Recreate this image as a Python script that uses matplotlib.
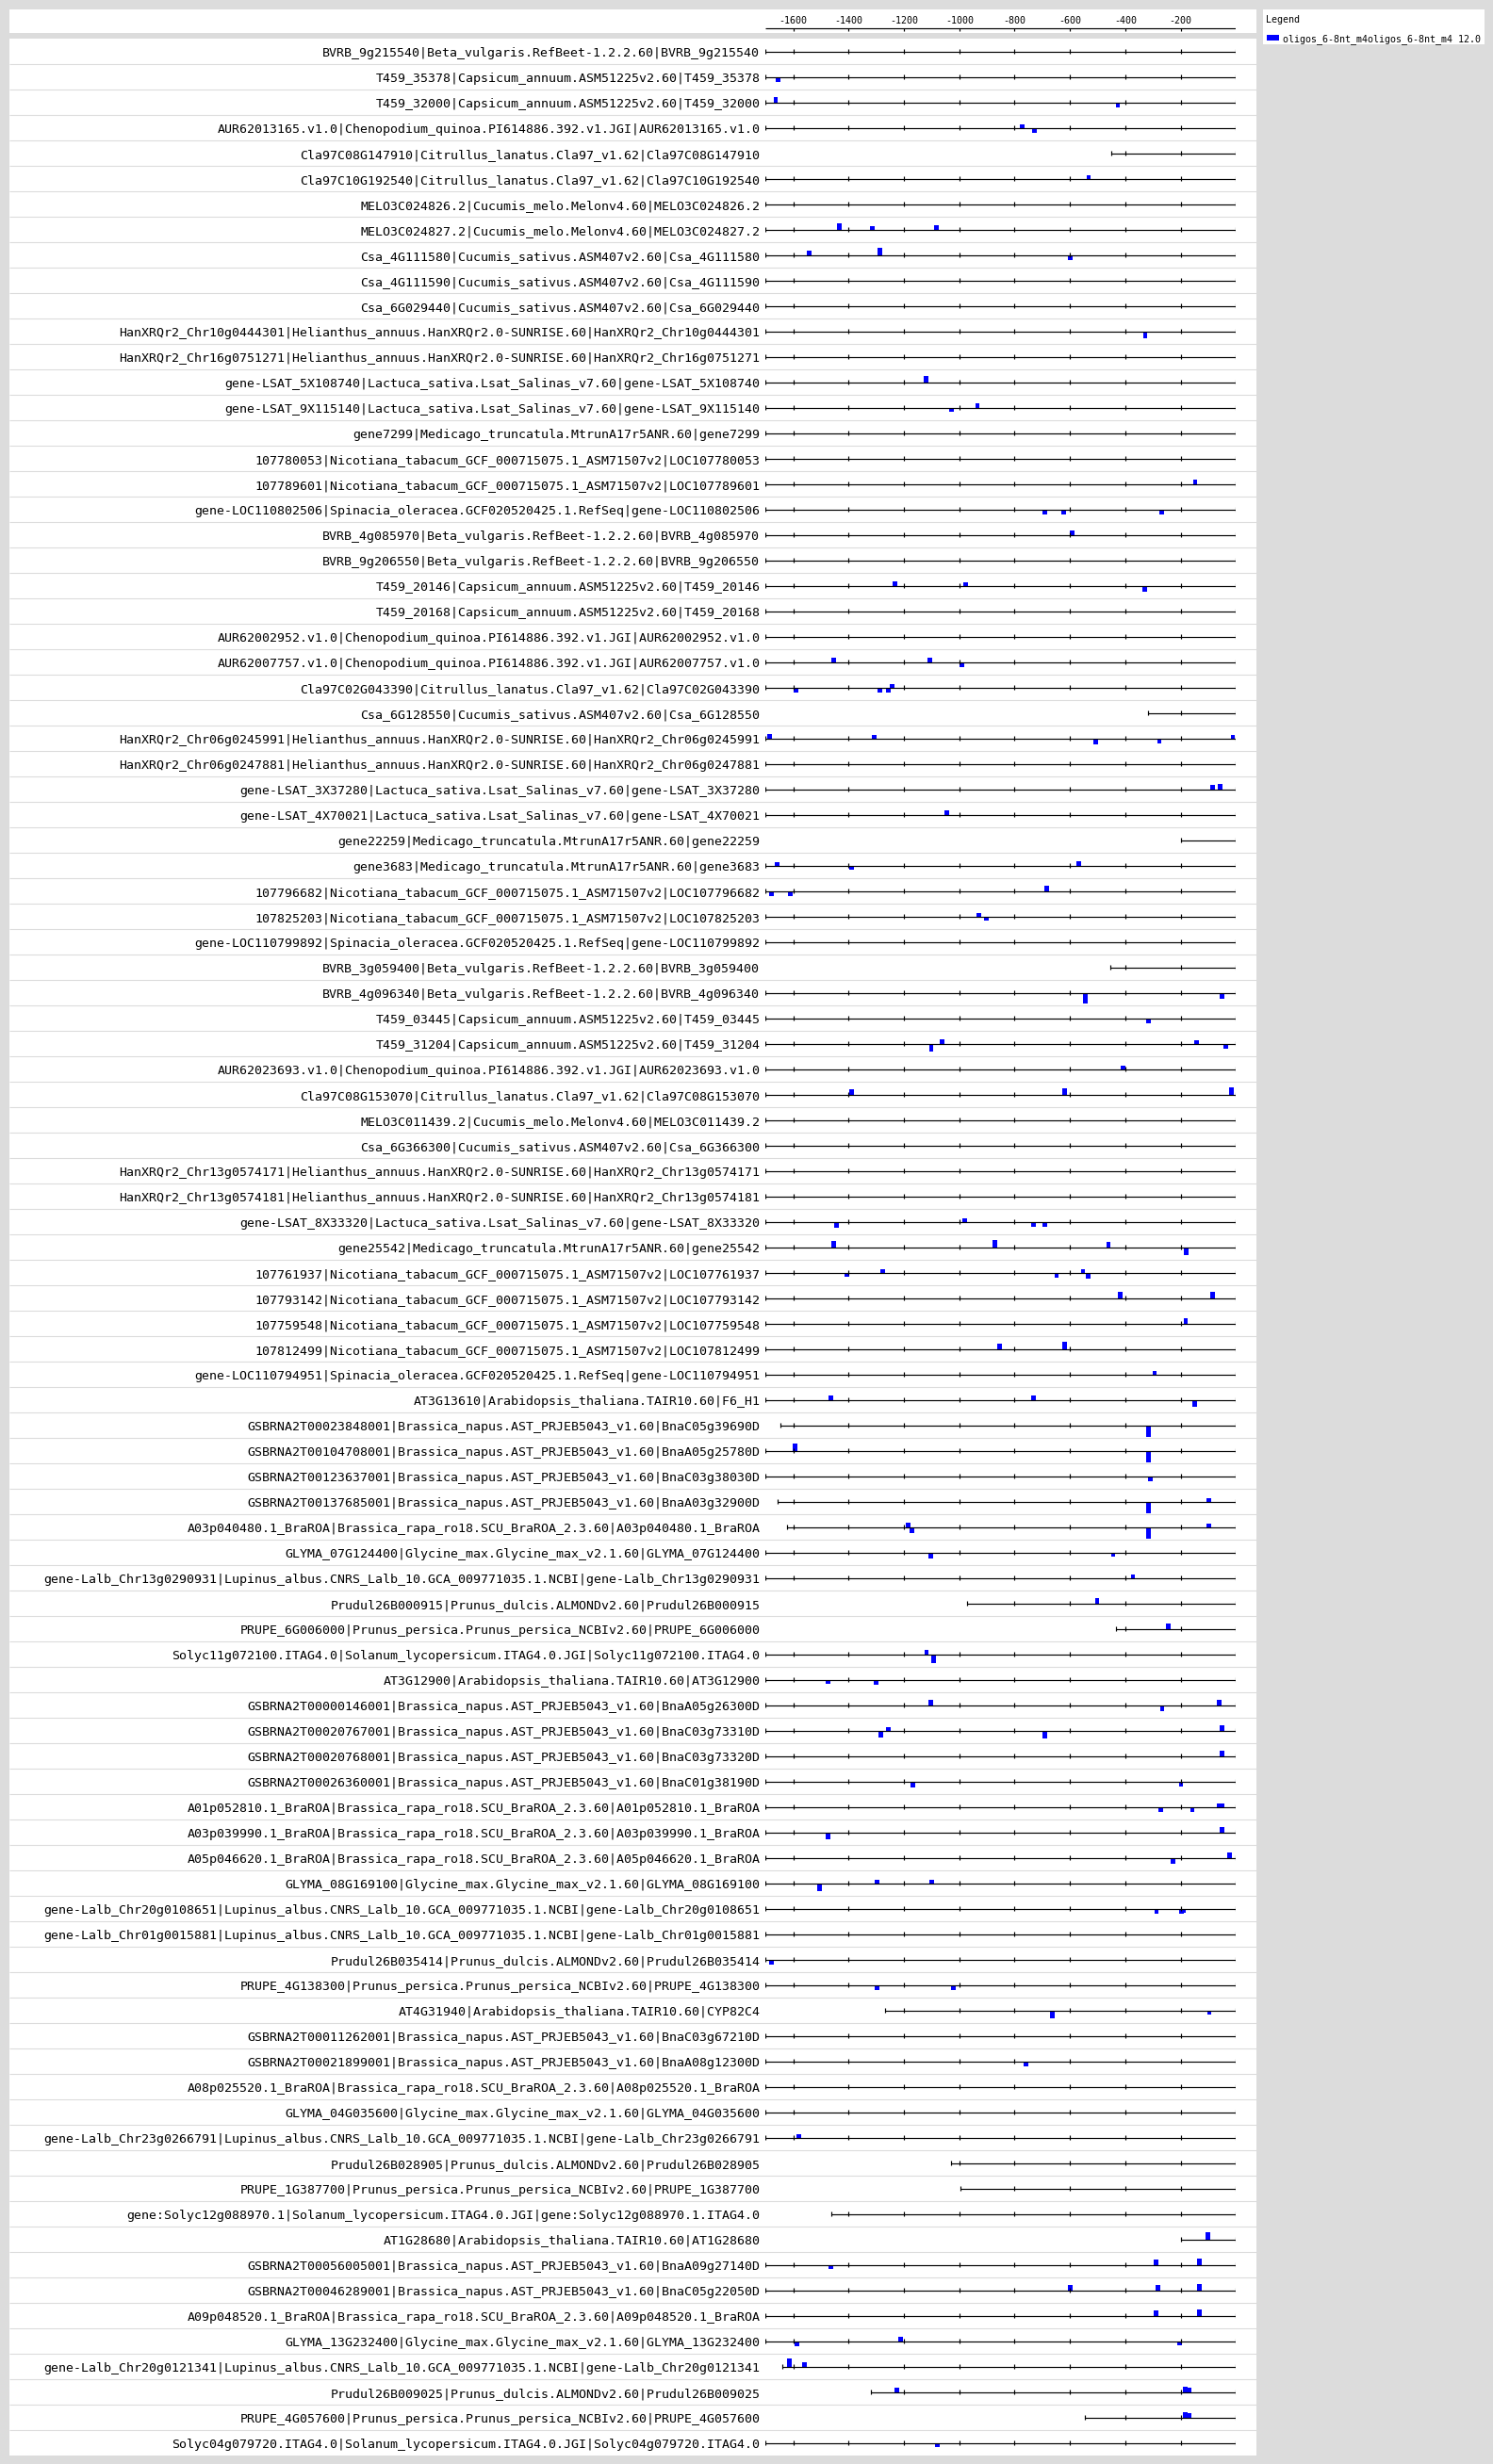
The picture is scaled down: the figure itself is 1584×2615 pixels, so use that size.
import matplotlib
matplotlib.use("Agg")
import matplotlib.pyplot as plt
from matplotlib.patches import Rectangle
from matplotlib.transforms import offset_copy

W, H, DPI = 1584, 2615, 100

labels = [
    "BVRB_9g215540|Beta_vulgaris.RefBeet-1.2.2.60|BVRB_9g215540",
    "T459_35378|Capsicum_annuum.ASM51225v2.60|T459_35378",
    "T459_32000|Capsicum_annuum.ASM51225v2.60|T459_32000",
    "AUR62013165.v1.0|Chenopodium_quinoa.PI614886.392.v1.JGI|AUR62013165.v1.0",
    "Cla97C08G147910|Citrullus_lanatus.Cla97_v1.62|Cla97C08G147910",
    "Cla97C10G192540|Citrullus_lanatus.Cla97_v1.62|Cla97C10G192540",
    "MELO3C024826.2|Cucumis_melo.Melonv4.60|MELO3C024826.2",
    "MELO3C024827.2|Cucumis_melo.Melonv4.60|MELO3C024827.2",
    "Csa_4G111580|Cucumis_sativus.ASM407v2.60|Csa_4G111580",
    "Csa_4G111590|Cucumis_sativus.ASM407v2.60|Csa_4G111590",
    "Csa_6G029440|Cucumis_sativus.ASM407v2.60|Csa_6G029440",
    "HanXRQr2_Chr10g0444301|Helianthus_annuus.HanXRQr2.0-SUNRISE.60|HanXRQr2_Chr10g0444301",
    "HanXRQr2_Chr16g0751271|Helianthus_annuus.HanXRQr2.0-SUNRISE.60|HanXRQr2_Chr16g0751271",
    "gene-LSAT_5X108740|Lactuca_sativa.Lsat_Salinas_v7.60|gene-LSAT_5X108740",
    "gene-LSAT_9X115140|Lactuca_sativa.Lsat_Salinas_v7.60|gene-LSAT_9X115140",
    "gene7299|Medicago_truncatula.MtrunA17r5ANR.60|gene7299",
    "107780053|Nicotiana_tabacum_GCF_000715075.1_ASM71507v2|LOC107780053",
    "107789601|Nicotiana_tabacum_GCF_000715075.1_ASM71507v2|LOC107789601",
    "gene-LOC110802506|Spinacia_oleracea.GCF020520425.1.RefSeq|gene-LOC110802506",
    "BVRB_4g085970|Beta_vulgaris.RefBeet-1.2.2.60|BVRB_4g085970",
    "BVRB_9g206550|Beta_vulgaris.RefBeet-1.2.2.60|BVRB_9g206550",
    "T459_20146|Capsicum_annuum.ASM51225v2.60|T459_20146",
    "T459_20168|Capsicum_annuum.ASM51225v2.60|T459_20168",
    "AUR62002952.v1.0|Chenopodium_quinoa.PI614886.392.v1.JGI|AUR62002952.v1.0",
    "AUR62007757.v1.0|Chenopodium_quinoa.PI614886.392.v1.JGI|AUR62007757.v1.0",
    "Cla97C02G043390|Citrullus_lanatus.Cla97_v1.62|Cla97C02G043390",
    "Csa_6G128550|Cucumis_sativus.ASM407v2.60|Csa_6G128550",
    "HanXRQr2_Chr06g0245991|Helianthus_annuus.HanXRQr2.0-SUNRISE.60|HanXRQr2_Chr06g0245991",
    "HanXRQr2_Chr06g0247881|Helianthus_annuus.HanXRQr2.0-SUNRISE.60|HanXRQr2_Chr06g0247881",
    "gene-LSAT_3X37280|Lactuca_sativa.Lsat_Salinas_v7.60|gene-LSAT_3X37280",
    "gene-LSAT_4X70021|Lactuca_sativa.Lsat_Salinas_v7.60|gene-LSAT_4X70021",
    "gene22259|Medicago_truncatula.MtrunA17r5ANR.60|gene22259",
    "gene3683|Medicago_truncatula.MtrunA17r5ANR.60|gene3683",
    "107796682|Nicotiana_tabacum_GCF_000715075.1_ASM71507v2|LOC107796682",
    "107825203|Nicotiana_tabacum_GCF_000715075.1_ASM71507v2|LOC107825203",
    "gene-LOC110799892|Spinacia_oleracea.GCF020520425.1.RefSeq|gene-LOC110799892",
    "BVRB_3g059400|Beta_vulgaris.RefBeet-1.2.2.60|BVRB_3g059400",
    "BVRB_4g096340|Beta_vulgaris.RefBeet-1.2.2.60|BVRB_4g096340",
    "T459_03445|Capsicum_annuum.ASM51225v2.60|T459_03445",
    "T459_31204|Capsicum_annuum.ASM51225v2.60|T459_31204",
    "AUR62023693.v1.0|Chenopodium_quinoa.PI614886.392.v1.JGI|AUR62023693.v1.0",
    "Cla97C08G153070|Citrullus_lanatus.Cla97_v1.62|Cla97C08G153070",
    "MELO3C011439.2|Cucumis_melo.Melonv4.60|MELO3C011439.2",
    "Csa_6G366300|Cucumis_sativus.ASM407v2.60|Csa_6G366300",
    "HanXRQr2_Chr13g0574171|Helianthus_annuus.HanXRQr2.0-SUNRISE.60|HanXRQr2_Chr13g0574171",
    "HanXRQr2_Chr13g0574181|Helianthus_annuus.HanXRQr2.0-SUNRISE.60|HanXRQr2_Chr13g0574181",
    "gene-LSAT_8X33320|Lactuca_sativa.Lsat_Salinas_v7.60|gene-LSAT_8X33320",
    "gene25542|Medicago_truncatula.MtrunA17r5ANR.60|gene25542",
    "107761937|Nicotiana_tabacum_GCF_000715075.1_ASM71507v2|LOC107761937",
    "107793142|Nicotiana_tabacum_GCF_000715075.1_ASM71507v2|LOC107793142",
    "107759548|Nicotiana_tabacum_GCF_000715075.1_ASM71507v2|LOC107759548",
    "107812499|Nicotiana_tabacum_GCF_000715075.1_ASM71507v2|LOC107812499",
    "gene-LOC110794951|Spinacia_oleracea.GCF020520425.1.RefSeq|gene-LOC110794951",
    "AT3G13610|Arabidopsis_thaliana.TAIR10.60|F6_H1",
    "GSBRNA2T00023848001|Brassica_napus.AST_PRJEB5043_v1.60|BnaC05g39690D",
    "GSBRNA2T00104708001|Brassica_napus.AST_PRJEB5043_v1.60|BnaA05g25780D",
    "GSBRNA2T00123637001|Brassica_napus.AST_PRJEB5043_v1.60|BnaC03g38030D",
    "GSBRNA2T00137685001|Brassica_napus.AST_PRJEB5043_v1.60|BnaA03g32900D",
    "A03p040480.1_BraROA|Brassica_rapa_ro18.SCU_BraROA_2.3.60|A03p040480.1_BraROA",
    "GLYMA_07G124400|Glycine_max.Glycine_max_v2.1.60|GLYMA_07G124400",
    "gene-Lalb_Chr13g0290931|Lupinus_albus.CNRS_Lalb_10.GCA_009771035.1.NCBI|gene-Lalb_Chr13g0290931",
    "Prudul26B000915|Prunus_dulcis.ALMONDv2.60|Prudul26B000915",
    "PRUPE_6G006000|Prunus_persica.Prunus_persica_NCBIv2.60|PRUPE_6G006000",
    "Solyc11g072100.ITAG4.0|Solanum_lycopersicum.ITAG4.0.JGI|Solyc11g072100.ITAG4.0",
    "AT3G12900|Arabidopsis_thaliana.TAIR10.60|AT3G12900",
    "GSBRNA2T00000146001|Brassica_napus.AST_PRJEB5043_v1.60|BnaA05g26300D",
    "GSBRNA2T00020767001|Brassica_napus.AST_PRJEB5043_v1.60|BnaC03g73310D",
    "GSBRNA2T00020768001|Brassica_napus.AST_PRJEB5043_v1.60|BnaC03g73320D",
    "GSBRNA2T00026360001|Brassica_napus.AST_PRJEB5043_v1.60|BnaC01g38190D",
    "A01p052810.1_BraROA|Brassica_rapa_ro18.SCU_BraROA_2.3.60|A01p052810.1_BraROA",
    "A03p039990.1_BraROA|Brassica_rapa_ro18.SCU_BraROA_2.3.60|A03p039990.1_BraROA",
    "A05p046620.1_BraROA|Brassica_rapa_ro18.SCU_BraROA_2.3.60|A05p046620.1_BraROA",
    "GLYMA_08G169100|Glycine_max.Glycine_max_v2.1.60|GLYMA_08G169100",
    "gene-Lalb_Chr20g0108651|Lupinus_albus.CNRS_Lalb_10.GCA_009771035.1.NCBI|gene-Lalb_Chr20g0108651",
    "gene-Lalb_Chr01g0015881|Lupinus_albus.CNRS_Lalb_10.GCA_009771035.1.NCBI|gene-Lalb_Chr01g0015881",
    "Prudul26B035414|Prunus_dulcis.ALMONDv2.60|Prudul26B035414",
    "PRUPE_4G138300|Prunus_persica.Prunus_persica_NCBIv2.60|PRUPE_4G138300",
    "AT4G31940|Arabidopsis_thaliana.TAIR10.60|CYP82C4",
    "GSBRNA2T00011262001|Brassica_napus.AST_PRJEB5043_v1.60|BnaC03g67210D",
    "GSBRNA2T00021899001|Brassica_napus.AST_PRJEB5043_v1.60|BnaA08g12300D",
    "A08p025520.1_BraROA|Brassica_rapa_ro18.SCU_BraROA_2.3.60|A08p025520.1_BraROA",
    "GLYMA_04G035600|Glycine_max.Glycine_max_v2.1.60|GLYMA_04G035600",
    "gene-Lalb_Chr23g0266791|Lupinus_albus.CNRS_Lalb_10.GCA_009771035.1.NCBI|gene-Lalb_Chr23g0266791",
    "Prudul26B028905|Prunus_dulcis.ALMONDv2.60|Prudul26B028905",
    "PRUPE_1G387700|Prunus_persica.Prunus_persica_NCBIv2.60|PRUPE_1G387700",
    "gene:Solyc12g088970.1|Solanum_lycopersicum.ITAG4.0.JGI|gene:Solyc12g088970.1.ITAG4.0",
    "AT1G28680|Arabidopsis_thaliana.TAIR10.60|AT1G28680",
    "GSBRNA2T00056005001|Brassica_napus.AST_PRJEB5043_v1.60|BnaA09g27140D",
    "GSBRNA2T00046289001|Brassica_napus.AST_PRJEB5043_v1.60|BnaC05g22050D",
    "A09p048520.1_BraROA|Brassica_rapa_ro18.SCU_BraROA_2.3.60|A09p048520.1_BraROA",
    "GLYMA_13G232400|Glycine_max.Glycine_max_v2.1.60|GLYMA_13G232400",
    "gene-Lalb_Chr20g0121341|Lupinus_albus.CNRS_Lalb_10.GCA_009771035.1.NCBI|gene-Lalb_Chr20g0121341",
    "Prudul26B009025|Prunus_dulcis.ALMONDv2.60|Prudul26B009025",
    "PRUPE_4G057600|Prunus_persica.Prunus_persica_NCBIv2.60|PRUPE_4G057600",
    "Solyc04g079720.ITAG4.0|Solanum_lycopersicum.ITAG4.0.JGI|Solyc04g079720.ITAG4.0",
]

# sequences shorter than the full upstream window: row index -> start position
short_rows = [4, 26, 31, 36, 54, 57, 58, 61, 62, 77, 83, 84, 85, 86, 91, 92, 93]
short_starts = [-450, -317, -200, -453, -1648, -1658, -1624, -972, -432,
                -1270, -1031, -997, -1464, -200, -1641, -1321, -545]

# motif hits: row, centre position, strand (+1 above / -1 below), score (bar height)
motif_row = [1, 2, 2, 3, 3, 5, 7, 7, 7, 8, 8, 8, 11, 13, 14, 14,
             17, 18, 18, 18, 19, 21, 21, 21, 24, 24, 24, 25, 25, 25, 25,
             27, 27, 27, 27, 27, 29, 29, 30, 32, 32, 32, 33, 33, 33, 34, 34,
             37, 37, 38, 39, 39, 39, 39, 40, 41, 41, 41, 46, 46, 46, 46,
             47, 47, 47, 47, 48, 48, 48, 48, 48, 49, 49, 50, 51, 51, 52,
             53, 53, 53, 54, 55, 55, 56, 57, 57, 58, 58, 58, 58, 59, 59,
             60, 61, 62, 63, 63, 64, 64, 65, 65, 65, 66, 66, 66, 66, 67,
             68, 68, 69, 69, 69, 69, 70, 70, 71, 71, 72, 72, 72, 73, 73, 73,
             75, 76, 76, 77, 77, 79, 82, 86, 87, 87, 87, 88, 88, 88, 89, 89,
             90, 90, 90, 91, 91, 92, 92, 92, 93, 93, 94]
motif_pos = [-1656, -1664, -427, -773, -728, -532, -1433, -1314, -1083, -1542, -1287, -600, -328, -1120, -1028, -934,
             -148, -692, -623, -269, -592, -1232, -977, -330, -1455, -1106, -991, -1590, -1287, -1256, -1243,
             -1685, -1307, -508, -277, -11, -85, -58, -1045, -1658, -1389, -568, -1679, -1610, -684, -930, -902,
             -545, -51, -317, -1101, -1063, -143, -37, -408, -1389, -620, -17, -1443, -980, -732, -691,
             -1455, -871, -461, -180, -1406, -1277, -648, -553, -534, -419, -85, -182, -854, -620, -294,
             -1465, -732, -150, -317, -1593, -317, -310, -317, -99, -1186, -1171, -317, -99, -1103, -444,
             -372, -502, -245, -1118, -1093, -1474, -1300, -1104, -267, -61, -1283, -1256, -691, -51, -51,
             -1168, -199, -272, -158, -61, -50, -1474, -51, -228, -24, -1505, -1297, -1100, -287, -197, -189,
             -1678, -1297, -1021, -664, -96, -760, -1580, -102, -1464, -289, -133, -599, -283, -133, -289, -133,
             -1586, -1212, -204, -1615, -1559, -1225, -184, -170, -184, -170, -1079]
motif_strand = [-1, 1, -1, 1, -1, 1, 1, 1, 1, 1, 1, -1, -1, 1, -1, 1,
                1, -1, -1, -1, 1, 1, 1, -1, 1, 1, -1, -1, -1, -1, 1,
                1, 1, -1, -1, 1, 1, 1, 1, 1, -1, 1, -1, -1, 1, 1, -1,
                -1, -1, -1, -1, 1, 1, -1, 1, 1, 1, 1, -1, 1, -1, -1,
                1, 1, 1, -1, -1, 1, -1, 1, -1, 1, 1, 1, 1, 1, 1,
                1, 1, -1, -1, 1, -1, -1, -1, 1, 1, -1, -1, 1, -1, -1,
                1, 1, 1, 1, -1, -1, -1, 1, -1, 1, -1, 1, -1, 1, 1,
                -1, -1, -1, -1, 1, 1, -1, 1, -1, 1, -1, 1, 1, -1, -1, -1,
                -1, -1, -1, -1, -1, -1, 1, 1, -1, 1, 1, 1, 1, 1, 1, 1,
                -1, 1, -1, 1, 1, 1, 1, 1, 1, 1, -1]
motif_score = [5, 6, 5, 4, 5, 4, 7, 4, 5, 5, 8, 5, 7, 7, 4, 5,
               5, 5, 5, 5, 5, 5, 4, 6, 5, 5, 5, 5, 5, 5, 4,
               5, 4, 6, 5, 4, 5, 6, 5, 4, 4, 5, 5, 5, 6, 4, 4,
               11, 6, 5, 8, 5, 4, 5, 4, 6, 7, 8, 6, 4, 5, 5,
               7, 8, 6, 8, 4, 4, 5, 4, 6, 7, 7, 6, 6, 8, 4,
               5, 5, 7, 12, 8, 12, 5, 12, 4, 5, 6, 12, 4, 6, 4,
               4, 6, 6, 5, 9, 4, 5, 6, 6, 6, 7, 4, 8, 6, 6,
               6, 5, 5, 5, 4, 4, 7, 6, 6, 6, 8, 4, 4, 5, 5, 4,
               5, 5, 5, 8, 4, 5, 4, 8, 4, 6, 7, 6, 6, 7, 6, 7,
               5, 5, 4, 9, 5, 5, 6, 5, 6, 5, 4]

axis_ticks = [-1600, -1400, -1200, -1000, -800, -600, -400, -200]
legend_title = "Legend"
legend_label = "oligos_6-8nt_m4oligos_6-8nt_m4 12.0"

XMIN, XMAX = -1700, 0
GRAY = "#dcdcdc"
BLUE = "#0000ff"
MONO = "DejaVu Sans Mono"

fig = plt.figure(figsize=(W / DPI, H / DPI), dpi=DPI, facecolor=GRAY)


def fig_rect(x0, y0, x1, y1):
    return [x0 / W, 1 - y1 / H, (x1 - x0) / W, (y1 - y0) / H]


def fx(x):
    return x / W


def fy(y):
    return 1 - y / H


def clean(a):
    a.set_xticks([])
    a.set_yticks([])
    for s in a.spines.values():
        s.set_visible(False)


PANEL_TOP, PANEL_BOT = 41.3, 2606.3
PANEL_L, PANEL_R = 10, 1333
PLOT_L, PLOT_R = 812.3, 1311.3
n = len(labels)
ROW_PX = (PANEL_BOT - PANEL_TOP) / n
PX_PER_UNIT = (PLOT_R - PLOT_L) / (XMAX - XMIN)

# background panel with row separators
bg = fig.add_axes(fig_rect(PANEL_L, PANEL_TOP, PANEL_R, PANEL_BOT))
bg.set_facecolor("white")
bg.set_xlim(0, 1)
bg.set_ylim(n - 0.5, -0.5)
clean(bg)
bg.hlines([i + 0.5 for i in range(n - 1)], 0, 1, color=GRAY, lw=0.8)

# main track axes
ax = fig.add_axes(fig_rect(PLOT_L, PANEL_TOP, PLOT_R, PANEL_BOT))
ax.patch.set_alpha(0)
ax.set_xlim(XMIN, XMAX)
ax.set_ylim(n - 0.5, -0.5)
clean(ax)

starts = dict(zip(short_rows, short_starts))
tick_half = 2.4 / ROW_PX
label_trans = offset_copy(ax.transData, fig=fig, x=-6, y=-4.8, units="dots")

for i, lab in enumerate(labels):
    s = starts.get(i, XMIN)
    ax.hlines(i, s, XMAX, color="black", lw=0.85)
    tx = [t for t in axis_ticks if t > s] + [s, XMAX]
    ax.vlines(tx, i - tick_half, i + tick_half, color="black", lw=0.85)
    ax.text(XMIN, i, lab, transform=label_trans, ha="right", va="baseline",
            fontsize=9.57, family=MONO, color="black", clip_on=False)

box_w = 4.7 / PX_PER_UNIT
for r, p, st, sc in zip(motif_row, motif_pos, motif_strand, motif_score):
    h = sc / ROW_PX
    y0 = r - h if st > 0 else r + 0.5 / ROW_PX
    ax.add_patch(Rectangle((p - box_w / 2, y0), box_w, h, facecolor=BLUE,
                           edgecolor="none", lw=0))

# header scale (white strip behind, drawn below all axes)
fig.patches.append(Rectangle((fx(PANEL_L), fy(35)), (PANEL_R - PANEL_L) / W, 25 / H,
                             transform=fig.transFigure, facecolor="white",
                             edgecolor="none", zorder=-5))
hax = fig.add_axes(fig_rect(PLOT_L, 10, PLOT_R, 35))
hax.patch.set_alpha(0)
hax.set_xlim(XMIN, XMAX)
hax.set_ylim(35, 10)
clean(hax)
hax.set_zorder(2)
hax.hlines(30.3, XMIN, XMAX, color="black", lw=0.85)
hax.vlines(axis_ticks, 30.3, 33.3, color="black", lw=0.85)
for t in axis_ticks:
    hax.text(t, 25, str(t), ha="center", va="baseline", fontsize=7.2,
             family=MONO, color="black")

# legend
fig.patches.append(Rectangle((fx(1340), fy(47)), 235 / W, 37 / H,
                             transform=fig.transFigure, facecolor="white",
                             edgecolor="none", zorder=-5))
fig.text(fx(1343), fy(24), legend_title, ha="left", va="baseline",
         fontsize=7.2, family=MONO, color="black", zorder=5)
fig.patches.append(Rectangle((fx(1344), fy(43.3)), 12.7 / W, 6.6 / H,
                             transform=fig.transFigure, facecolor=BLUE,
                             edgecolor="none", zorder=4))
fig.text(fx(1360.7), fy(44.3), legend_label, ha="left", va="baseline",
         fontsize=7.2, family=MONO, color="black", zorder=5)

fig.savefig("out.png", dpi=DPI, facecolor=fig.get_facecolor())
